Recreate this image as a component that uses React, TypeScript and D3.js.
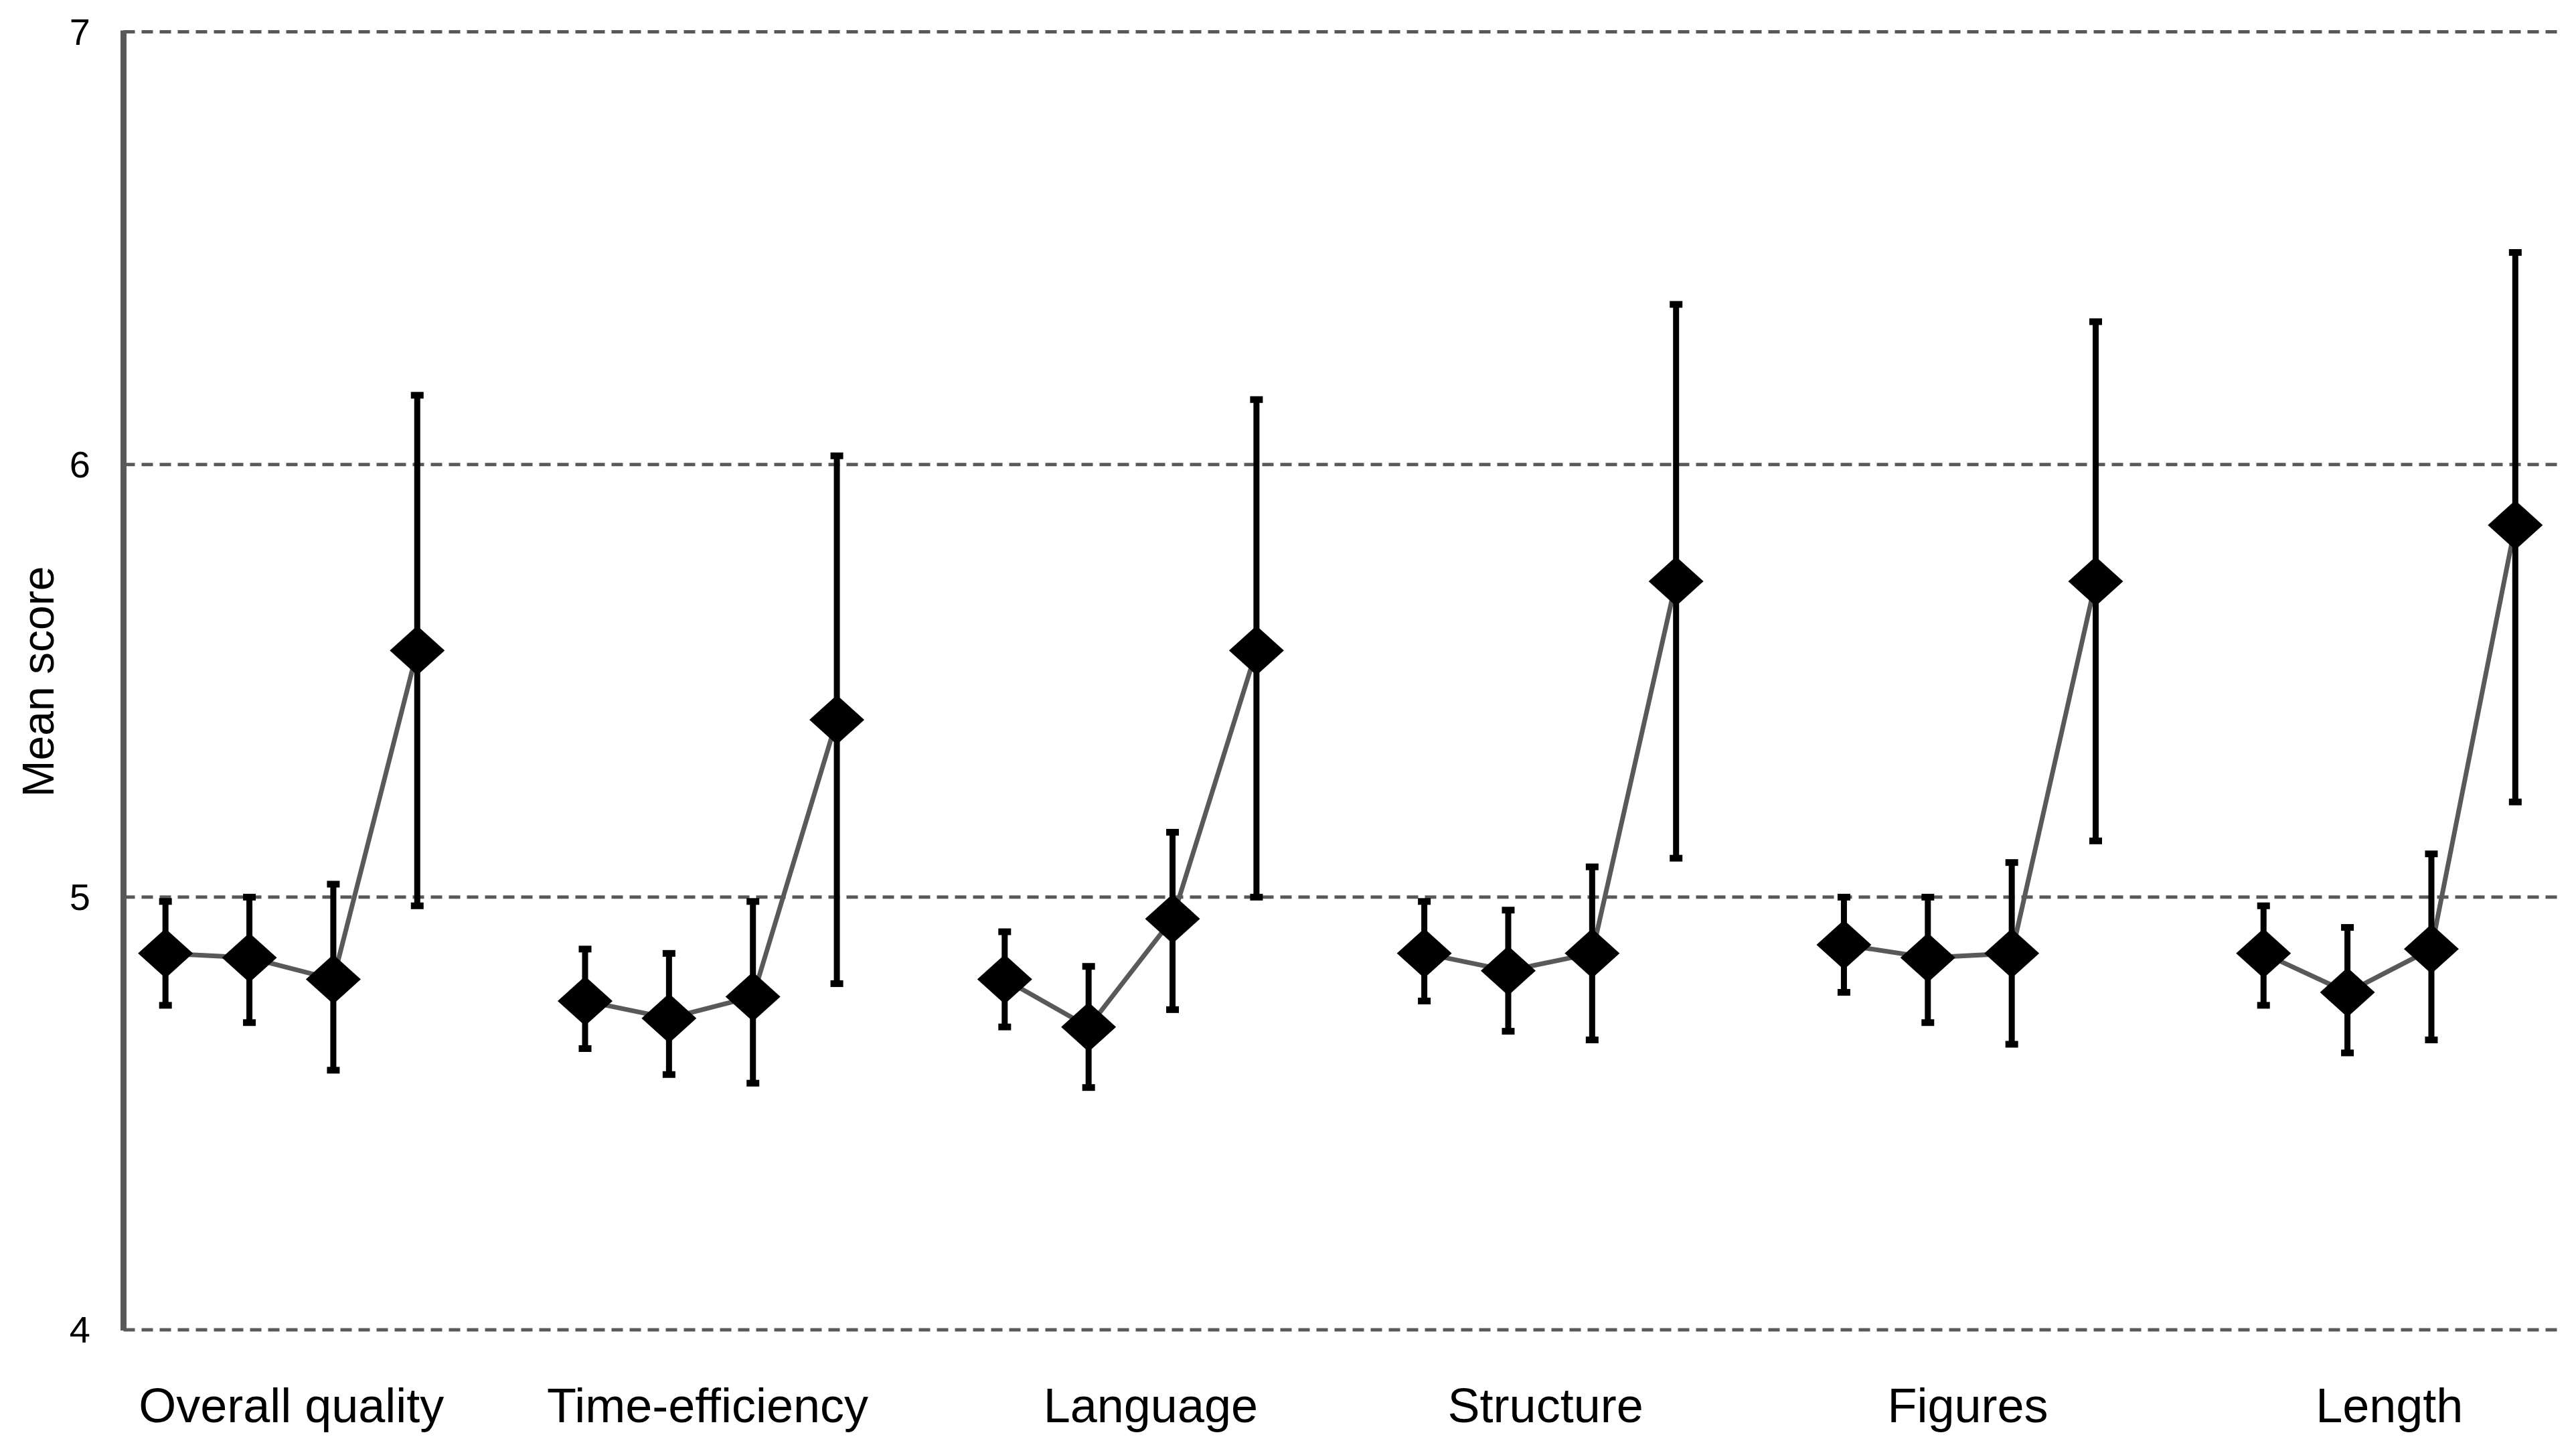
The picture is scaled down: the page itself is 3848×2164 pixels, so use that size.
import React from "react";
import * as d3 from "d3";

const categories = ["Overall quality", "Time-efficiency", "Language", "Structure", "Figures", "Length"];
const yTicks = [4, 5, 6, 7];

const meanOverall = [4.87, 4.86, 4.81, 5.57];
const meanTime = [4.76, 4.72, 4.77, 5.41];
const meanLanguage = [4.81, 4.70, 4.95, 5.57];
const meanStructure = [4.87, 4.83, 4.87, 5.73];
const meanFigures = [4.89, 4.86, 4.87, 5.73];
const meanLength = [4.87, 4.78, 4.88, 5.86];

const upperOverall = [4.99, 5.00, 5.03, 6.16];
const upperTime = [4.88, 4.87, 4.99, 6.02];
const upperLanguage = [4.92, 4.84, 5.15, 6.15];
const upperStructure = [4.99, 4.97, 5.07, 6.37];
const upperFigures = [5.00, 5.00, 5.08, 6.33];
const upperLength = [4.98, 4.93, 5.10, 6.49];

const lowerOverall = [4.75, 4.71, 4.60, 4.98];
const lowerTime = [4.65, 4.59, 4.57, 4.80];
const lowerLanguage = [4.70, 4.56, 4.74, 5.00];
const lowerStructure = [4.76, 4.69, 4.67, 5.09];
const lowerFigures = [4.78, 4.71, 4.66, 5.13];
const lowerLength = [4.75, 4.64, 4.67, 5.22];

const means = [meanOverall, meanTime, meanLanguage, meanStructure, meanFigures, meanLength];
const uppers = [upperOverall, upperTime, upperLanguage, upperStructure, upperFigures, upperLength];
const lowers = [lowerOverall, lowerTime, lowerLanguage, lowerStructure, lowerFigures, lowerLength];

const W = 3848;
const H = 2164;
const left = 184.5;
const right = 3820;
const top = 47.5;
const bottom = 1986;
const GRAY = "#595959";
const FONT = "'Liberation Sans', Arial, sans-serif";
// small horizontal nudges of category labels, as placed in the original
const labelNudge = [0, -5, 30, -7, -3, 0];

export default function App() {
  const nSlots = categories.length * 5 - 1;
  const x = d3.scaleLinear().domain([0, nSlots]).range([left, right]);
  const y = d3.scaleLinear().domain([4, 7]).range([bottom, top]);
  const slot = (g: number, k: number) => g * 5 + k + 0.5;

  const hw = 41;
  const hh = 37;
  const diamond = (cx: number, cy: number) =>
    `M${cx},${cy - hh}L${cx + hw},${cy}L${cx},${cy + hh}L${cx - hw},${cy}Z`;

  return (
    <svg
      width={W}
      height={H}
      style={{ position: "absolute", left: 0, top: 0, background: "#fff" }}
      xmlns="http://www.w3.org/2000/svg"
    >
      <rect x={0} y={0} width={W} height={H} fill="#fff" />
      {yTicks.map((t) => (
        <line
          key={"g" + t}
          x1={left}
          x2={right}
          y1={y(t)}
          y2={y(t)}
          stroke={GRAY}
          strokeWidth={5}
          strokeDasharray="17 10"
        />
      ))}
      <line x1={left} x2={left} y1={top - 2} y2={bottom + 1} stroke={GRAY} strokeWidth={9} />
      {yTicks.map((t) => (
        <text
          key={"t" + t}
          x={135}
          y={y(t) + 19}
          textAnchor="end"
          fontFamily={FONT}
          fontSize={56}
          fill="#000"
        >
          {t}
        </text>
      ))}
      <text
        transform={`translate(80,1018) rotate(-90)`}
        textAnchor="middle"
        fontFamily={FONT}
        fontSize={66}
        fill="#000"
      >
        Mean score
      </text>
      {categories.map((c, g) => (
        <text
          key={"c" + g}
          x={x(slot(g, 1.5)) + labelNudge[g]}
          y={2124}
          textAnchor="middle"
          fontFamily={FONT}
          fontSize={72}
          fill="#000"
        >
          {c}
        </text>
      ))}
      {means.map((vals, g) => {
        const l = d3
          .line<number>()
          .x((_, k) => x(slot(g, k)))
          .y((v) => y(v));
        return <path key={"l" + g} d={l(vals) || ""} fill="none" stroke={GRAY} strokeWidth={7} />;
      })}
      {means.map((vals, g) =>
        vals.map((v, k) => {
          const cx = x(slot(g, k));
          const yu = y(uppers[g][k]);
          const yl = y(lowers[g][k]);
          return (
            <g key={"e" + g + "-" + k}>
              <line x1={cx} x2={cx} y1={yu} y2={yl} stroke="#000" strokeWidth={9} />
              <rect x={cx - 9.5} y={yu - 5} width={19} height={10} fill="#000" />
              <rect x={cx - 9.5} y={yl - 5} width={19} height={10} fill="#000" />
            </g>
          );
        })
      )}
      {means.map((vals, g) =>
        vals.map((v, k) => (
          <path key={"d" + g + "-" + k} d={diamond(x(slot(g, k)), y(v))} fill="#000" />
        ))
      )}
    </svg>
  );
}
